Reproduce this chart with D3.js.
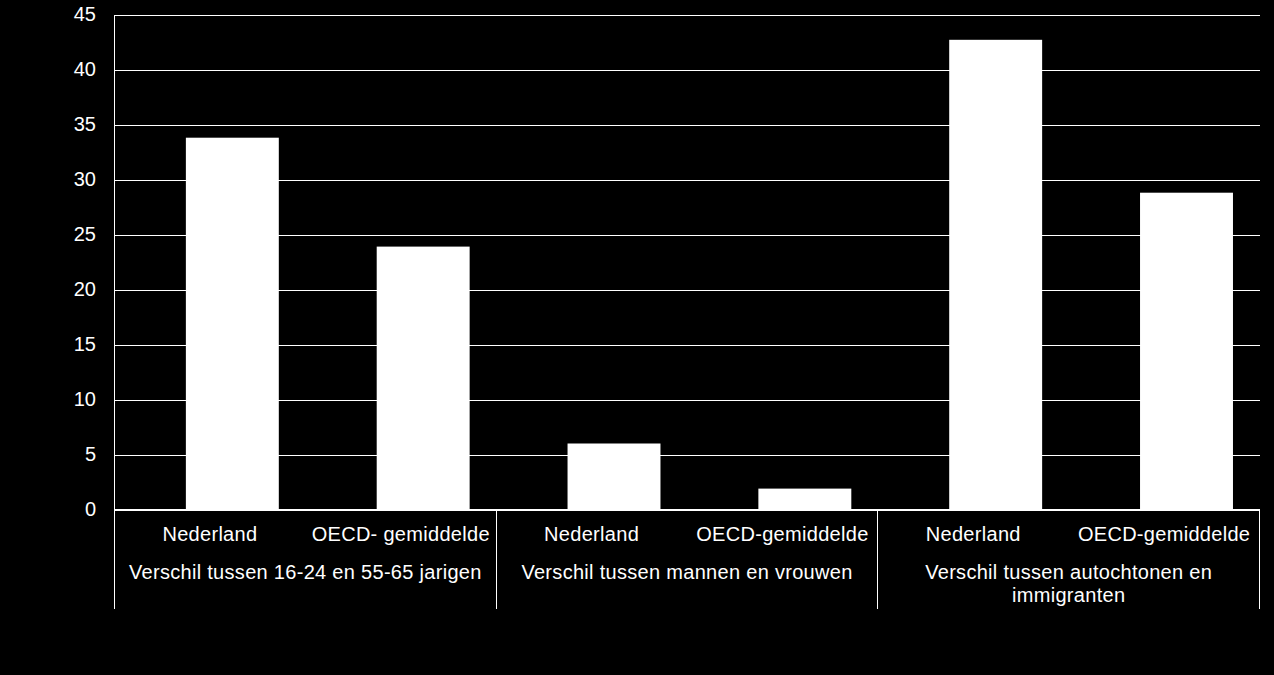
<!DOCTYPE html>
<html>
<head>
<meta charset="utf-8">
<script src="https://cdn.jsdelivr.net/npm/d3@7"></script>
<style>
  html, body { margin: 0; padding: 0; background: #000; }
  #graph text { font-family: "Liberation Sans", Arial, sans-serif; fill: #fff; }
  #graph line { shape-rendering: crispEdges; }
</style>
</head>
<body>
<div id="graph"></div>
<script>
var groups = [
  "Verschil tussen 16-24 en 55-65 jarigen",
  "Verschil tussen mannen en vrouwen",
  "Verschil tussen autochtonen en immigranten"
];
var categories = [
  "Nederland", "OECD- gemiddelde",
  "Nederland", "OECD-gemiddelde",
  "Nederland", "OECD-gemiddelde"
];
var values = [33.8, 23.9, 6.0, 1.9, 42.7, 28.8];
var yTicks = [0, 5, 10, 15, 20, 25, 30, 35, 40, 45];

var margin = {top: 14.5, right: 14.5, bottom: 67, left: 114.5},
  width = 1274 - margin.left - margin.right,
  height = 509.5 - margin.top,
  axisDepth = 99;

var svg = d3.select("#graph").append("svg")
    .attr("width", 1274)
    .attr("height", 675)
  .append("g")
    .attr("transform", "translate(" + margin.left + "," + margin.top + ")");

var x = d3.scaleBand().domain(d3.range(categories.length)).range([0, width]);
var xGroup = d3.scaleBand().domain(d3.range(groups.length)).range([0, width]);
var y = d3.scaleLinear().domain([0, 45]).range([height, 0]);

// gridlines + tick labels
var yAxis = svg.append("g")
    .attr("class", "axis axis--y")
    .call(d3.axisLeft(y).tickValues(yTicks).tickSize(-width).tickPadding(18.5));
yAxis.select(".domain").remove();
yAxis.selectAll("line").attr("stroke", "#fff").attr("stroke-width", 1);
yAxis.selectAll("text")
    .attr("fill", "#fff")
    .style("font-size", "20px")
    .style("font-family", "'Liberation Sans', Arial, sans-serif");

// bars (offset inside their slot, as in the original)
svg.selectAll(".bar")
    .data(values)
  .enter().append("rect")
    .attr("class", "bar")
    .attr("x", function(d, i) { return x(i) + x.bandwidth() * 0.374; })
    .attr("width", x.bandwidth() * 0.487)
    .attr("y", function(d) { return y(d); })
    .attr("height", function(d) { return y(0) - y(d); })
    .attr("fill", "#fff");

// axis lines
svg.append("line")
    .attr("x1", 0).attr("x2", width)
    .attr("y1", y(0)).attr("y2", y(0))
    .attr("stroke", "#fff").attr("stroke-width", 1);
svg.append("line")
    .attr("x1", 0).attr("x2", 0)
    .attr("y1", 0).attr("y2", height + axisDepth)
    .attr("stroke", "#fff").attr("stroke-width", 1);

// group separators below the axis
svg.selectAll(".sep")
    .data(d3.range(1, groups.length + 1))
  .enter().append("line")
    .attr("class", "sep")
    .attr("x1", function(d) { return d < groups.length ? xGroup(d) : width; })
    .attr("x2", function(d) { return d < groups.length ? xGroup(d) : width; })
    .attr("y1", height)
    .attr("y2", height + axisDepth)
    .attr("stroke", "#fff").attr("stroke-width", 1);

// category labels
svg.selectAll(".cat")
    .data(categories)
  .enter().append("text")
    .attr("class", "cat")
    .attr("x", function(d, i) { return x(i) + x.bandwidth() / 2; })
    .attr("y", height + 31)
    .attr("text-anchor", "middle")
    .style("font-size", "20px")
    .style("letter-spacing", "0.3px")
    .text(function(d) { return d; });

// group labels, wrapped to the group width
var groupText = svg.selectAll(".grp")
    .data(groups)
  .enter().append("text")
    .attr("class", "grp")
    .attr("text-anchor", "middle")
    .style("font-size", "20px")
    .style("letter-spacing", "0.3px")
    .attr("transform", function(d, i) {
      return "translate(" + (xGroup(i) + xGroup.bandwidth() / 2) + "," + (height + 69) + ")";
    });

groupText.each(function(d) {
  var el = d3.select(this),
    words = d.split(" "),
    line = [],
    tspan = el.append("tspan").attr("x", 0).attr("dy", 0);
  words.forEach(function(w) {
    line.push(w);
    tspan.text(line.join(" "));
    if (tspan.node().getComputedTextLength() > xGroup.bandwidth() - 12 && line.length > 1) {
      line.pop();
      tspan.text(line.join(" "));
      line = [w];
      tspan = el.append("tspan").attr("x", 0).attr("dy", "1.15em").text(w);
    }
  });
});
</script>
</body>
</html>
